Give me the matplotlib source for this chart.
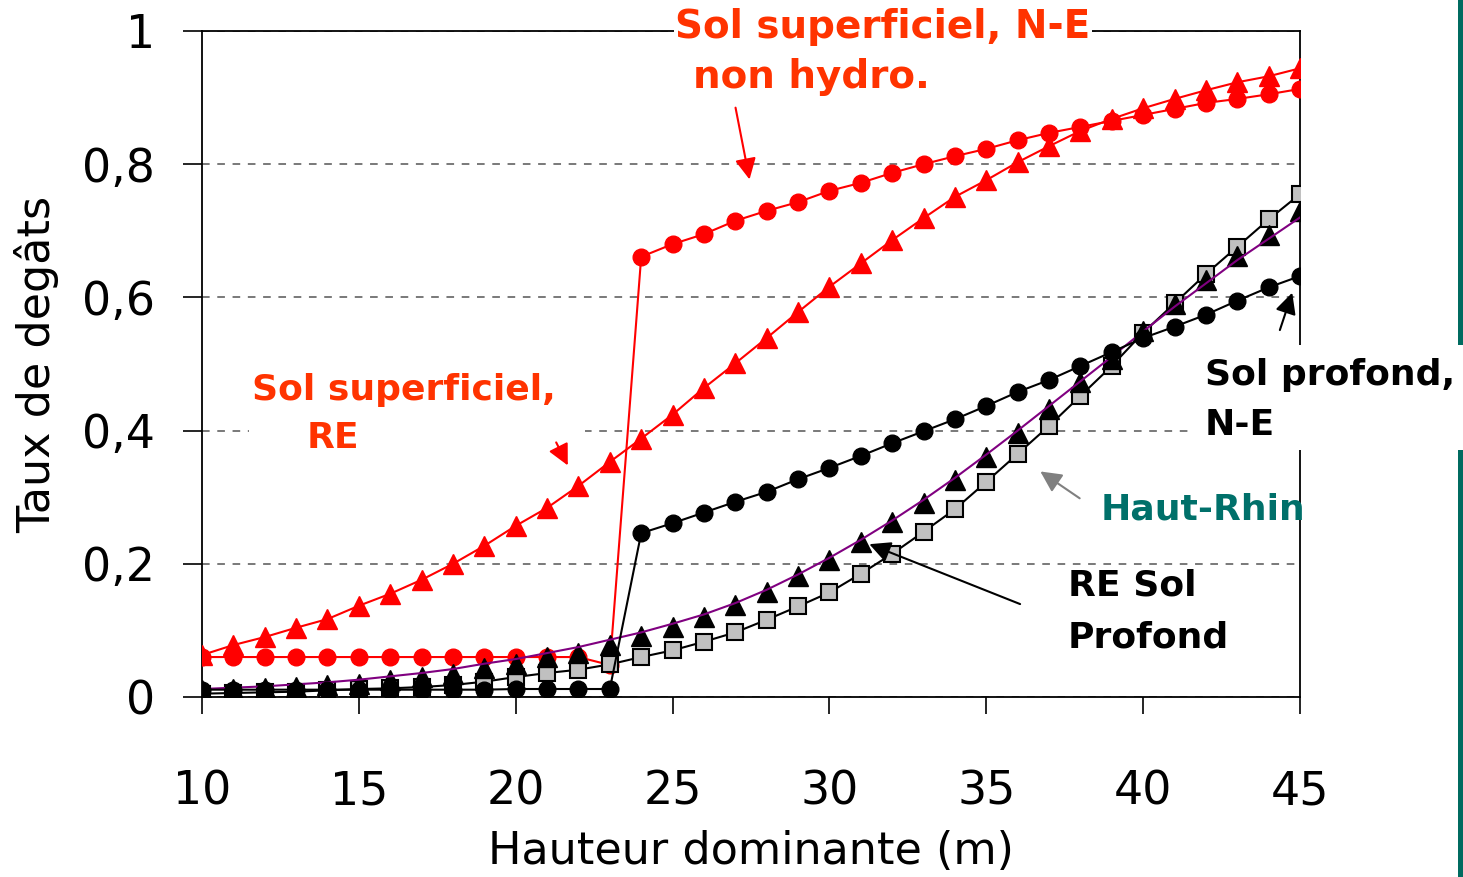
import numpy as np
import matplotlib
matplotlib.use('Agg')
import matplotlib.pyplot as plt
from matplotlib.patches import Rectangle

# hauteur dominante (m)
h = np.arange(10, 46)

# Sol superficiel, RE (red triangles)
sup_re = [0.063, 0.078, 0.09, 0.104, 0.117, 0.137, 0.155, 0.176, 0.2, 0.227,
          0.257, 0.284, 0.317, 0.353, 0.388, 0.424, 0.464, 0.501, 0.539, 0.578,
          0.616, 0.651, 0.686, 0.719, 0.751, 0.776, 0.803, 0.827, 0.85, 0.868,
          0.884, 0.898, 0.911, 0.923, 0.932, 0.944]
# Sol superficiel, N-E non hydro (red circles)
sup_ne = [0.06, 0.06, 0.06, 0.06, 0.06, 0.06, 0.06, 0.06, 0.06, 0.06,
          0.06, 0.06, 0.06, 0.048, 0.661, 0.68, 0.695, 0.715, 0.73, 0.743,
          0.76, 0.772, 0.787, 0.8, 0.812, 0.823, 0.836, 0.847, 0.856, 0.865,
          0.874, 0.883, 0.892, 0.898, 0.905, 0.913]
# Sol profond, N-E (black circles)
prof_ne = [0.011, 0.011, 0.011, 0.011, 0.011, 0.011, 0.011, 0.011, 0.011, 0.011,
           0.012, 0.012, 0.012, 0.012, 0.246, 0.261, 0.277, 0.293, 0.308, 0.327,
           0.344, 0.362, 0.381, 0.399, 0.417, 0.437, 0.458, 0.476, 0.497, 0.518,
           0.539, 0.556, 0.574, 0.595, 0.615, 0.632]
# RE sol profond (black triangles)
prof_re = [0.01, 0.012, 0.013, 0.015, 0.018, 0.02, 0.025, 0.03, 0.035, 0.043,
           0.05, 0.06, 0.066, 0.078, 0.091, 0.105, 0.12, 0.138, 0.158, 0.182,
           0.206, 0.232, 0.263, 0.291, 0.326, 0.36, 0.397, 0.433, 0.473, 0.507,
           0.549, 0.59, 0.626, 0.662, 0.694, 0.729]
# grey squares
squares = [0.005, 0.006, 0.007, 0.008, 0.01, 0.012, 0.013, 0.015, 0.018, 0.023,
           0.03, 0.036, 0.041, 0.049, 0.06, 0.07, 0.083, 0.097, 0.116, 0.136,
           0.157, 0.185, 0.215, 0.248, 0.282, 0.323, 0.365, 0.407, 0.452, 0.497,
           0.547, 0.591, 0.635, 0.676, 0.717, 0.755]
# Haut-Rhin (purple curve)
haut_rhin = [0.012, 0.014, 0.016, 0.019, 0.022, 0.026, 0.031, 0.036, 0.042, 0.05,
             0.057, 0.066, 0.075, 0.086, 0.097, 0.11, 0.124, 0.141, 0.161, 0.184,
             0.209, 0.236, 0.265, 0.296, 0.329, 0.364, 0.4, 0.437, 0.474, 0.511,
             0.549, 0.586, 0.621, 0.656, 0.688, 0.72]

xticks = [10, 15, 20, 25, 30, 35, 40, 45]
yticks = [0, 0.2, 0.4, 0.6, 0.8, 1]
ytick_labels = ['0', '0,2', '0,4', '0,6', '0,8', '1']

RED = '#ff0000'
TXT_RED = '#ff3300'
TEAL = '#00706a'

fig = plt.figure(figsize=(14.63, 8.77), dpi=100)
ax = fig.add_axes([202/1463, 1-697/877, 1098/1463, 666/877])

ax.plot(h, sup_re, color=RED, lw=1.5, marker='^', ms=14, zorder=3)
ax.plot(h, sup_ne, color=RED, lw=1.5, marker='o', ms=12, zorder=3.1)
ax.plot(h, squares, color='black', lw=1.5, marker='s', ms=11, mfc='#c0c0c0',
        mec='black', mew=1.5, zorder=3.2)
ax.plot(h, prof_re, ls='none', marker='^', ms=14, color='black', zorder=3.3)
ax.plot(h, haut_rhin, color='#800080', lw=1.5, zorder=3.4)
ax.plot(h, prof_ne, color='black', lw=1.5, marker='o', ms=12, zorder=3.5)

ax.set_xlim(10, 45)
ax.set_ylim(0, 1)
ax.set_xticks(xticks)
ax.set_yticks(yticks)
ax.set_yticklabels(ytick_labels)
ax.tick_params(axis='x', direction='out', length=12, width=1.2, pad=40, labelsize=33)
ax.tick_params(axis='y', direction='out', length=14, width=1.2, pad=20, labelsize=33)
for s in ax.spines.values():
    s.set_linewidth(1.3)
ax.yaxis.grid(True, ls=(0, (5, 5)), color='#555555', lw=1.1)
ax.set_axisbelow(True)

ax.set_xlabel('Hauteur dominante (m)', fontsize=32, labelpad=11)
ax.set_ylabel('Taux de degâts', fontsize=32, labelpad=16)

# white patch behind "Sol superficiel, RE"
ax.add_patch(Rectangle((11.5, 0.37), 10.7, 0.14, color='white', zorder=1.5, lw=0))

tf = dict(fontsize=26, fontweight='bold', va='center', ha='left')
arr = dict(arrowstyle='-|>', lw=1.5, mutation_scale=32)

ax.text(25.08, 1.006, 'Sol superficiel, N-E', color=TXT_RED, clip_on=False, zorder=6,
        fontsize=28, fontweight='bold', va='center', ha='left',
        bbox=dict(fc='white', ec='none', pad=1))
ax.text(25.65, 0.931, 'non hydro.', color=TXT_RED, zorder=6,
        fontsize=28, fontweight='bold', va='center', ha='left')
ax.annotate('', xy=(27.47, 0.773), xytext=(26.99, 0.889), zorder=6,
            arrowprops=dict(color=RED, **arr))

ax.text(11.59, 0.461, 'Sol superficiel,', color=TXT_RED, zorder=6, **tf)
ax.text(13.35, 0.389, 'RE', color=TXT_RED, zorder=6, **tf)
ax.annotate('', xy=(21.70, 0.344), xytext=(21.25, 0.386), zorder=6,
            arrowprops=dict(color=RED, **arr))

# white box over right spine / border for "Sol profond, N-E"
ax.add_patch(Rectangle((1195/1463, 1-450/877), 268/1463, 105/877, color='white', lw=0,
                       transform=fig.transFigure, clip_on=False, zorder=5))
ax.text(41.97, 0.483, 'Sol profond,', color='black', clip_on=False, zorder=6, **tf)
ax.text(41.97, 0.408, 'N-E', color='black', clip_on=False, zorder=6, **tf)
ax.annotate('', xy=(44.78, 0.611), xytext=(44.33, 0.547), zorder=6,
            arrowprops=dict(color='black', **arr))

ax.text(38.63, 0.281, 'Haut-Rhin', color=TEAL, zorder=6, **tf)
ax.annotate('', xy=(36.65, 0.341), xytext=(38.05, 0.296), zorder=6,
            arrowprops=dict(color='#808080', **arr))

ax.text(37.6, 0.168, 'RE Sol', color='black', zorder=6, **tf)
ax.text(37.6, 0.09, 'Profond', color='black', zorder=6, **tf)
ax.annotate('', xy=(31.19, 0.231), xytext=(36.16, 0.138), zorder=6,
            arrowprops=dict(color='black', **arr))

# green slide border on the right
ax.add_patch(Rectangle((1458/1463, 0), 5/1463, 1, color='#006b60', lw=0,
                       transform=fig.transFigure, clip_on=False, zorder=4))

fig.savefig('out.png', dpi=100, facecolor='white')
